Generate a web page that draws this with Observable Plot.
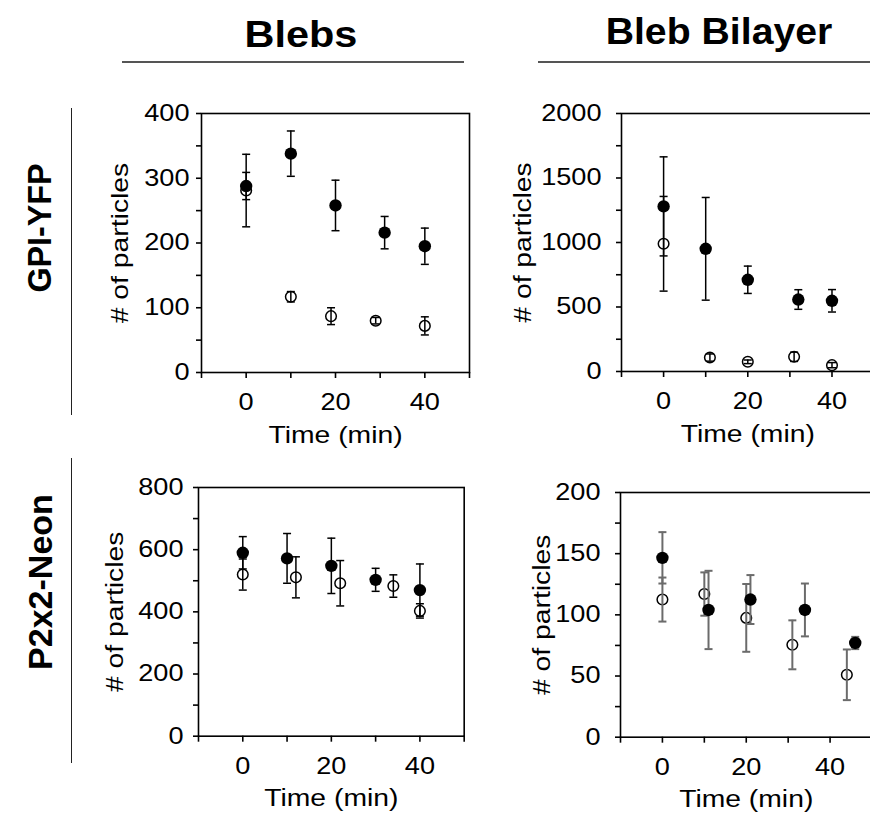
<!DOCTYPE html>
<html>
<head>
<meta charset="utf-8">
<script src="https://cdn.jsdelivr.net/npm/d3@7"></script>
<script src="https://cdn.jsdelivr.net/npm/@observablehq/plot@0.6"></script>
<style>
  html, body { margin: 0; padding: 0; background: #fff; overflow: hidden; }
  #fig { position: relative; width: 870px; height: 813px; overflow: hidden; background: #fff;
         font-family: Arial, "Liberation Sans", sans-serif; color: #000; }
  .head { position: absolute; width: 400px; text-align: center; font-weight: bold; font-size: 37px;
          line-height: 37px; white-space: nowrap; transform-origin: 50% 50%; }
  .row { position: absolute; width: 300px; text-align: center; font-weight: bold; font-size: 34px;
         line-height: 34px; white-space: nowrap; transform-origin: 50% 50%; }
  .hline { position: absolute; height: 2px; background: #555; }
  .vline { position: absolute; width: 1px; background: #222; }
  #fig svg { position: absolute; overflow: visible; }
</style>
</head>
<body>
<div id="fig"></div>
<script>
// Column and row headings
const columns = ["Blebs", "Bleb Bilayer"];
const rows = ["GPI-YFP", "P2x2-Neon"];
const xLabel = "Time (min)";
const yLabel = "# of particles";

// Shared time axis
const timeTicks = [-10, 0, 10, 20, 30, 40, 50];
const timeTickLabels = [0, 20, 40];

// GPI-YFP in blebs
const gpiBlebsFilledT = [0, 10, 20, 31, 40];
const gpiBlebsFilledY = [288, 338, 258, 216, 195];
const gpiBlebsFilledE = [21, 35, 39, 25, 28];
const gpiBlebsOpenT = [0, 10, 19, 29, 40];
const gpiBlebsOpenY = [281, 117, 87, 80, 72];
const gpiBlebsOpenE = [56, 8, 13, 5, 14];
const gpiBlebsYTicks = [0, 50, 100, 150, 200, 250, 300, 350, 400];
const gpiBlebsYLabels = [0, 100, 200, 300, 400];

// GPI-YFP in bleb bilayers
const gpiBilayerFilledT = [0, 10, 20, 32, 40];
const gpiBilayerFilledY = [1280, 951, 711, 558, 548];
const gpiBilayerFilledE = [384, 398, 106, 76, 87];
const gpiBilayerOpenT = [0, 11, 20, 31, 40];
const gpiBilayerOpenY = [990, 108, 75, 114, 49];
const gpiBilayerOpenE = [367, 28, 14, 36, 20];
const gpiBilayerYTicks = [0, 250, 500, 750, 1000, 1250, 1500, 1750, 2000];
const gpiBilayerYLabels = [0, 500, 1000, 1500, 2000];

// P2x2-Neon in blebs
const p2xBlebsFilledT = [0, 10, 20, 30, 40];
const p2xBlebsFilledY = [590, 572, 548, 503, 470];
const p2xBlebsFilledE = [52, 80, 89, 37, 84];
const p2xBlebsOpenT = [0, 12, 22, 34, 40];
const p2xBlebsOpenY = [520, 511, 492, 483, 403];
const p2xBlebsOpenE = [50, 66, 73, 36, 23];
const p2xBlebsYTicks = [0, 100, 200, 300, 400, 500, 600, 700, 800];
const p2xBlebsYLabels = [0, 200, 400, 600, 800];

// P2x2-Neon in bleb bilayers
const p2xBilayerFilledT = [0, 11, 21, 34, 46];
const p2xBilayerFilledY = [146.6, 104, 112.5, 104, 77];
const p2xBilayerFilledE = [21, 32, 20, 21.6, 5];
const p2xBilayerOpenT = [0, 10, 20, 31, 44];
const p2xBilayerOpenY = [112.5, 117, 97.5, 75.5, 51];
const p2xBilayerOpenE = [18, 17.7, 27.7, 20, 20.7];
const p2xBilayerYTicks = [0, 25, 50, 75, 100, 125, 150, 175, 200];
const p2xBilayerYLabels = [0, 50, 100, 150, 200];

const FONT = 'Arial, "Liberation Sans", sans-serif';
const STRETCH = 1.18;   // the typeface in this figure runs wide

const fig = document.getElementById("fig");

// short horizontal stroke used as an error-bar cap
const capSymbol = {
  draw(ctx, size) {
    const w = Math.sqrt(size / Math.PI);
    ctx.moveTo(-w, 0);
    ctx.lineTo(w, 0);
  }
};

function rowsOf(T, Y, E) {
  return T.map((t, i) => ({t, y: Y[i], lo: Y[i] - E[i], hi: Y[i] + E[i]}));
}

function stretchText(root, k) {
  root.querySelectorAll("text").forEach((el) => {
    if (!el.textContent) return;
    const L = el.getComputedTextLength();
    el.setAttribute("textLength", (L * k).toFixed(2));
    el.setAttribute("lengthAdjust", "spacingAndGlyphs");
  });
}

function panel(p) {
  const mL = 115, mR = 12, mT = 12, mB = 80;
  const filled = rowsOf(p.fT, p.fY, p.fE);
  const open = rowsOf(p.oT, p.oY, p.oE);
  const all = open.concat(filled);
  const bar = {stroke: p.barColor, strokeWidth: p.barWidth};
  const chart = Plot.plot({
    width: p.w + mL + mR,
    height: p.h + mT + mB,
    marginLeft: mL, marginRight: mR, marginTop: mT, marginBottom: mB,
    style: {fontFamily: FONT, fontSize: "23px", color: "#000", background: "transparent", overflow: "visible"},
    x: {domain: [-10, 50]},
    y: {domain: [0, p.yMax]},
    marks: [
      Plot.axisX({ticks: timeTicks, tickFormat: (d) => timeTickLabels.includes(d) ? String(d) : "",
                  tickSize: 6, tickPadding: 15, strokeWidth: 1.6, label: null}),
      Plot.axisY({ticks: p.yTicks, tickFormat: (d) => p.yLabels.includes(d) ? String(d) : "",
                  tickSize: 5, tickPadding: p.tickPad, strokeWidth: 1.6, label: null}),
      Plot.text([xLabel], {text: (d) => d, frameAnchor: "bottom", dy: 53, lineAnchor: "top", fontSize: 24}),
      Plot.text([yLabel], {text: (d) => d, frameAnchor: "left", dx: p.labelDx, rotate: -90,
                           lineAnchor: "top", textAnchor: "middle", fontSize: 24}),
      // open markers sit beneath the error bars, filled markers on top
      Plot.dot(open, {x: "t", y: "y", r: 5.3, fill: "#fff", stroke: "#000", strokeWidth: 1.5}),
      Plot.ruleX(all, {x: "t", y1: "lo", y2: "hi", ...bar}),
      Plot.dot(all, {x: "t", y: "lo", symbol: capSymbol, r: 4, fill: "none", ...bar}),
      Plot.dot(all, {x: "t", y: "hi", symbol: capSymbol, r: 4, fill: "none", ...bar}),
      Plot.dot(filled, {x: "t", y: "y", r: 6.2, fill: "#000", stroke: "none"}),
      Plot.frame({stroke: "#000", strokeWidth: 1.6})
    ]
  });
  chart.style.left = (p.left - mL) + "px";
  chart.style.top = (p.top - mT) + "px";
  fig.appendChild(chart);
  stretchText(chart, STRETCH);
}

panel({left: 201, top: 113, w: 268, h: 259, yMax: 400, yTicks: gpiBlebsYTicks, yLabels: gpiBlebsYLabels,
       tickPad: 7, labelDx: -91, barColor: "#000", barWidth: 1.5,
       fT: gpiBlebsFilledT, fY: gpiBlebsFilledY, fE: gpiBlebsFilledE,
       oT: gpiBlebsOpenT, oY: gpiBlebsOpenY, oE: gpiBlebsOpenE});
panel({left: 621, top: 112.7, w: 252.6, h: 258, yMax: 2000, yTicks: gpiBilayerYTicks, yLabels: gpiBilayerYLabels,
       tickPad: 15, labelDx: -108, barColor: "#000", barWidth: 1.5,
       fT: gpiBilayerFilledT, fY: gpiBilayerFilledY, fE: gpiBilayerFilledE,
       oT: gpiBilayerOpenT, oY: gpiBilayerOpenY, oE: gpiBilayerOpenE});
panel({left: 198.3, top: 487.3, w: 265.7, h: 248.7, yMax: 800, yTicks: p2xBlebsYTicks, yLabels: p2xBlebsYLabels,
       tickPad: 10, labelDx: -93, barColor: "#000", barWidth: 1.5,
       fT: p2xBlebsFilledT, fY: p2xBlebsFilledY, fE: p2xBlebsFilledE,
       oT: p2xBlebsOpenT, oY: p2xBlebsOpenY, oE: p2xBlebsOpenE});
panel({left: 620, top: 492, w: 251.5, h: 244.7, yMax: 200, yTicks: p2xBilayerYTicks, yLabels: p2xBilayerYLabels,
       tickPad: 15, labelDx: -88, barColor: "#6b6b6b", barWidth: 2,
       fT: p2xBilayerFilledT, fY: p2xBilayerFilledY, fE: p2xBilayerFilledE,
       oT: p2xBilayerOpenT, oY: p2xBilayerOpenY, oE: p2xBilayerOpenE});

// Column headings with rules beneath
function heading(text, cx, baseline, k) {
  const d = document.createElement("div");
  d.className = "head";
  d.textContent = text;
  d.style.left = (cx - 200) + "px";
  d.style.top = (baseline - 0.8465 * 37) + "px";
  d.style.transform = `scaleX(${k})`;
  fig.appendChild(d);
}
function hline(x1, x2, y) {
  const d = document.createElement("div");
  d.className = "hline";
  d.style.left = x1 + "px"; d.style.width = (x2 - x1) + "px"; d.style.top = (y - 1) + "px";
  fig.appendChild(d);
}
heading(columns[0], 301, 47, 1.12);
heading(columns[1], 719, 44, 1.06);
hline(122, 464, 62);
hline(538, 872, 62);

// Row headings with vertical rules
function rowLabel(text, cx, cy, k) {
  const d = document.createElement("div");
  d.className = "row";
  d.textContent = text;
  d.style.left = (cx - 150) + "px";
  d.style.top = (cy - 17) + "px";
  d.style.transform = `rotate(-90deg) scaleX(${k})`;
  fig.appendChild(d);
}
function vline(x, y1, y2) {
  const d = document.createElement("div");
  d.className = "vline";
  d.style.left = x + "px"; d.style.top = y1 + "px"; d.style.height = (y2 - y1) + "px";
  fig.appendChild(d);
}
rowLabel(rows[0], 39, 228, 0.95);
rowLabel(rows[1], 39.5, 582, 1.0);
vline(71, 108, 415);
vline(71, 458, 763);
</script>
</body>
</html>
